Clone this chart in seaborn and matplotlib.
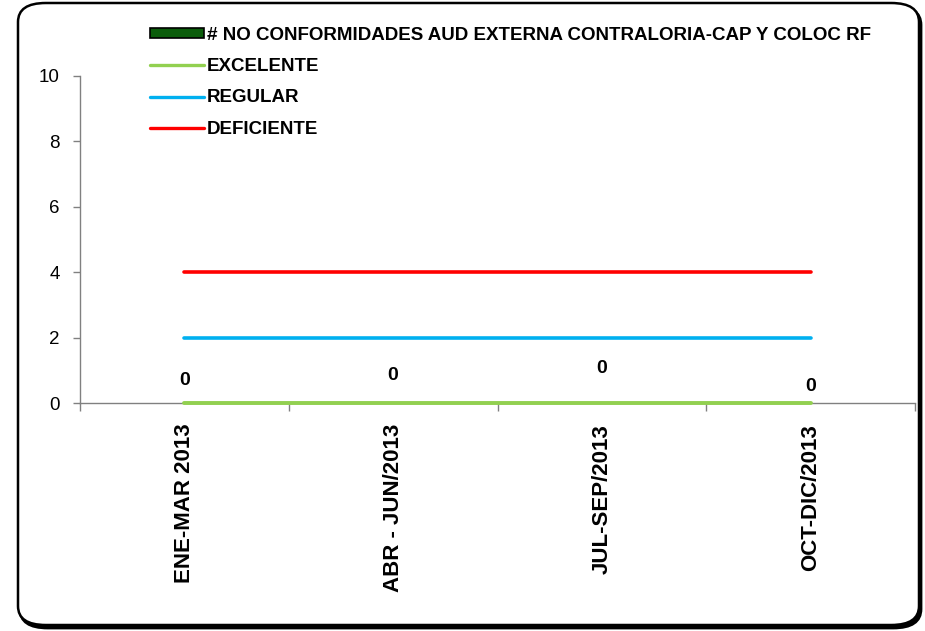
import numpy as np
import pandas as pd
import seaborn as sns
import matplotlib.pyplot as plt
from matplotlib.patches import FancyBboxPatch, Patch
from matplotlib.lines import Line2D

# Datos del gráfico
periodos = ["ENE-MAR 2013", "ABR - JUN/2013", "JUL-SEP/2013", "OCT-DIC/2013"]
no_conformidades = [0, 0, 0, 0]
excelente = [0, 0, 0, 0]
regular = [2, 2, 2, 2]
deficiente = [4, 4, 4, 4]
serie_barras = "# NO CONFORMIDADES AUD EXTERNA CONTRALORIA-CAP Y COLOC RF"

sns.set_style("white")
plt.rcParams["font.family"] = ["Liberation Sans", "DejaVu Sans"]
plt.rcParams["text.color"] = "black"
plt.rcParams["xtick.color"] = "black"
plt.rcParams["ytick.color"] = "black"

W, H = 925, 631
fig = plt.figure(figsize=(W / 100, H / 100), dpi=100)
fig.patch.set_facecolor("white")

# marco redondeado con sombra (estilo Excel)
sombra = FancyBboxPatch((20 / W, 3 / H), 901 / W, 622 / H,
                        boxstyle="round,pad=0,rounding_size=0.03",
                        transform=fig.transFigure, facecolor="black",
                        edgecolor="black", lw=2, zorder=-2)
marco = FancyBboxPatch((18 / W, 6 / H), 901 / W, 622 / H,
                       boxstyle="round,pad=0,rounding_size=0.03",
                       transform=fig.transFigure, facecolor="white",
                       edgecolor="black", lw=1.8, zorder=-1)
fig.patches.extend([sombra, marco])

ax = fig.add_axes([80 / W, 1 - 403 / H, (915 - 80) / W, (403 - 76) / H])
ax.patch.set_alpha(0)

df = pd.DataFrame({"periodo": periodos, "nc": no_conformidades,
                   "exc": excelente, "reg": regular, "def": deficiente})

sns.barplot(data=df, x="periodo", y="nc", color="#0b5d0b", linewidth=0,
            width=0.5, ax=ax)
sns.lineplot(data=df, x="periodo", y="exc", color="#92d050", lw=2.8, sort=False,
             clip_on=False, zorder=5, ax=ax)
sns.lineplot(data=df, x="periodo", y="reg", color="#00b0f0", lw=2.6, sort=False,
             zorder=5, ax=ax)
sns.lineplot(data=df, x="periodo", y="def", color="#ff0000", lw=2.6, sort=False,
             zorder=5, ax=ax)

# etiquetas de valores
desplaz = [16, 19.5, 24.5, 12]
for i, v in enumerate(no_conformidades):
    ax.annotate(str(v), (i, v), xytext=(0, desplaz[i]), textcoords="offset points",
                ha="center", va="center", fontsize=14, fontweight="bold")

ax.set_ylim(0, 10)
ax.set_xlim(-0.5, 3.5)
ax.set_yticks(range(0, 11, 2))
ax.set_xticks(range(4))
ax.set_xticklabels(periodos, rotation=90, fontsize=16, fontweight="bold")
ax.set_xticks(np.arange(-0.5, 4, 1), minor=True)
ax.tick_params(axis="x", which="major", bottom=True, length=0, pad=15)
ax.tick_params(axis="x", which="minor", bottom=True, length=6, color="#808080",
               width=1, direction="out")
ax.tick_params(axis="y", left=True, length=5, color="#808080", width=1,
               direction="out", labelsize=13.5, pad=9.5)
ax.set_xlabel("")
ax.set_ylabel("")
for s in ["top", "right"]:
    ax.spines[s].set_visible(False)
for s in ["left", "bottom"]:
    ax.spines[s].set_color("#808080")
    ax.spines[s].set_linewidth(1)

handles = [
    Patch(facecolor="#0b5d0b", edgecolor="black", lw=1.2),
    Line2D([], [], color="#92d050", lw=2.4),
    Line2D([], [], color="#00b0f0", lw=2.4),
    Line2D([], [], color="#ff0000", lw=2.4),
]
etiquetas = [serie_barras, "EXCELENTE", "REGULAR", "DEFICIENTE"]
fig.legend(handles, etiquetas, loc="upper left", bbox_to_anchor=(150 / W, 1 - 27 / H),
           frameon=False, prop={"weight": "bold", "size": 13.5},
           handlelength=2.9, handleheight=0.45, handletextpad=0.15, labelspacing=0.76,
           borderaxespad=0, borderpad=0)

fig.savefig("out.png", dpi=100)
